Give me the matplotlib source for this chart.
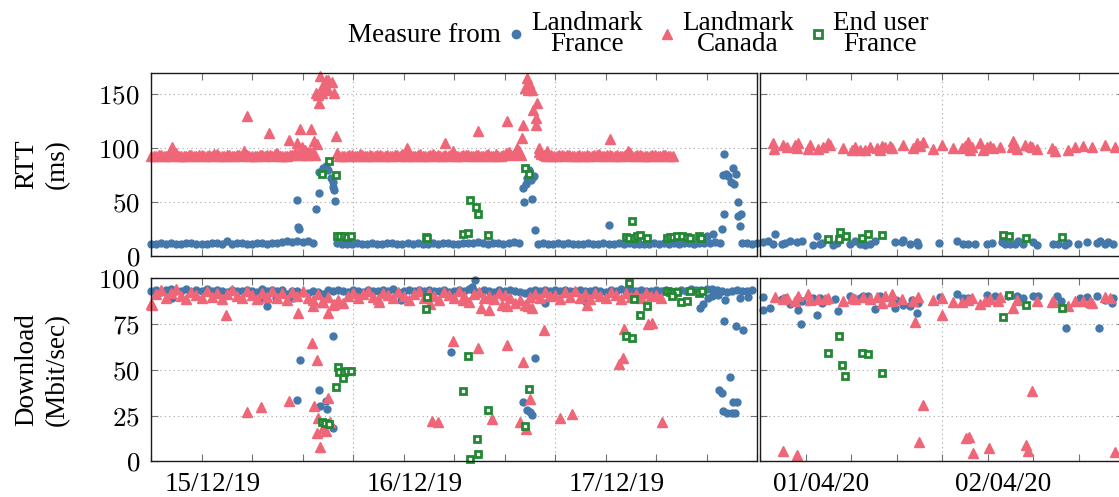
import numpy as np
import matplotlib
matplotlib.use('Agg')
import matplotlib.pyplot as plt
from matplotlib.lines import Line2D
from matplotlib.transforms import ScaledTranslation

plt.rcParams['font.family'] = ['Liberation Serif', 'DejaVu Serif']
plt.rcParams['mathtext.fontset'] = 'cm'

BLUE = '#4477AA'
PINK = '#EE6677'
GREEN = '#228833'

# ------------------------------------------------------------------ data
# Left window: days since 15/12/19 00:00 ; right window: days since 01/04/20 00:00
STEP = 0.025  # spacing of the regular measurement runs (days)

# ---- RTT (ms), Landmark France, left window: regular runs
rtt_fr_run1_t0 = 0.0
rtt_fr_run1 = [11.5, 11.0, 11.8, 11.2, 12.0, 11.4, 11.0, 11.6, 12.3, 11.2, 11.5, 11.0, 11.7, 12.1, 11.3,
               13.6, 11.0, 11.9, 12.4, 11.5, 11.2, 11.8, 12.0, 11.4, 11.6, 12.2, 12.8, 13.5, 12.6, 14.2,
               13.0, 13.8, 12.5]
rtt_fr_run2_t0 = 0.92
rtt_fr_run2 = [12.0, 11.2, 10.8, 11.5, 11.9, 11.0, 11.4, 12.2, 11.3, 11.0, 11.6, 11.8, 11.1, 11.5, 12.0,
               11.2, 11.7, 11.0, 11.4, 11.9, 11.3, 11.6, 12.1, 11.0, 11.5, 11.8, 12.4, 11.6, 13.2, 12.0,
               11.4, 11.8, 12.3, 11.5, 12.0, 12.6, 11.8]
rtt_fr_run3_t0 = 1.915
rtt_fr_run3 = [11.5, 12.0, 11.2, 11.0, 11.6, 11.3, 11.8, 11.1, 11.4, 11.0, 11.7, 11.2, 11.5, 11.9, 11.0,
               11.3, 11.6, 11.1, 11.8, 11.4, 11.0, 11.5, 11.2, 11.7, 11.3, 11.9, 11.1, 11.6, 11.4, 11.8,
               12.0, 11.5, 11.9, 12.3, 11.7, 12.8, 12.2]
rtt_fr_run4_t0 = 2.925
rtt_fr_run4 = [11.8, 12.2, 11.5, 12.0]
# isolated RTT points, Landmark France, left window
rtt_fr_left_t = [0.721, 0.728, 0.733, 0.815, 0.832, 0.834, 0.850, 0.866, 0.878, 0.890, 0.900, 0.902, 0.907, 0.912,
                 1.843, 1.847, 1.856, 1.863, 1.873, 1.880, 1.890, 1.896, 1.886, 1.902,
                 2.267, 2.754, 2.784, 2.825,
                 2.838, 2.830, 2.847, 2.858, 2.880, 2.895, 2.870, 2.886, 2.904, 2.837, 2.907, 2.921, 2.916]
rtt_fr_left_v = [52.3, 27.0, 25.0, 43.3, 58.8, 78.0, 82.0, 83.3, 79.6, 71.9, 68.7, 64.0, 61.6, 51.0,
                 63.0, 50.0, 66.6, 71.9, 80.2, 70.3, 73.4, 74.0, 53.2, 24.4,
                 28.7, 18.2, 20.0, 24.7,
                 94.2, 75.0, 75.8, 74.0, 81.8, 75.8, 68.7, 66.6, 50.1, 38.6, 37.0, 39.3, 27.5]

# ---- RTT (ms), Landmark Canada, left window: regular runs (two interleaved probes)
rtt_ca_run1_t0 = 0.0
rtt_ca_run1 = [93.0, 92.5, 94.0, 93.2, 92.8, 95.5, 93.0, 92.6, 93.5, 92.9, 93.8, 92.4, 93.1, 94.2, 92.7,
               93.4, 92.8, 93.6, 92.5, 93.9, 93.0, 92.6, 93.3, 94.0, 92.8, 95.8, 93.2, 92.7, 93.6, 94.5,
               96.5, 93.4, 95.0]
rtt_ca_run1b_t0 = 0.0125
rtt_ca_run1b = [92.6, 93.4, 92.9, 93.7, 94.5, 92.8, 93.1, 93.9, 92.7, 93.3, 92.9, 93.6, 94.8, 92.6, 93.2,
                93.8, 92.9, 93.4, 97.0, 93.1, 92.7, 93.5, 92.9, 93.6, 94.2, 93.0, 92.8, 93.7, 95.5, 93.3,
                94.0, 96.0, 93.6]
rtt_ca_run2_t0 = 0.92
rtt_ca_run2 = [95.5, 93.0, 92.6, 93.4, 92.8, 93.9, 92.5, 93.2, 94.0, 92.7, 93.3, 92.9, 93.6, 94.8, 93.1,
               92.6, 93.5, 92.8, 93.2, 95.0, 93.4, 92.7, 93.0, 93.8, 92.6, 93.3, 94.1, 92.9, 93.5, 93.0,
               94.6, 93.2, 92.8, 93.7, 96.0, 94.5, 97.5]
rtt_ca_run2b_t0 = 0.9325
rtt_ca_run2b = [93.2, 92.8, 93.6, 93.0, 94.2, 92.7, 93.4, 92.9, 93.8, 93.1, 92.6, 93.5, 93.0, 92.8, 93.7,
                93.2, 94.5, 92.9, 93.3, 93.0, 92.7, 93.6, 94.0, 93.1, 92.8, 93.4, 93.0, 93.9, 92.7, 93.5,
                93.2, 94.3, 93.0, 95.2, 93.6, 96.8, 94.0]
rtt_ca_run3_t0 = 1.92
rtt_ca_run3 = [96.5, 93.5, 92.8, 93.2, 94.0, 92.7, 93.4, 92.9, 93.6, 93.1, 92.5, 93.3, 94.2, 92.8, 93.5,
               93.0, 92.6, 93.4, 95.2, 92.9, 93.6, 93.0, 92.7, 93.3, 92.8, 93.5, 93.0]
rtt_ca_run3b_t0 = 1.9325
rtt_ca_run3b = [94.5, 93.0, 93.6, 92.7, 93.3, 93.9, 92.8, 93.2, 93.0, 94.0, 92.9, 93.4, 92.7, 93.6, 93.1,
                93.8, 92.9, 93.3, 93.0, 93.7, 92.8, 93.2, 93.5, 92.9, 93.4, 93.1, 92.8]
rtt_ca_left_t = [0.105, 0.474, 0.586, 0.683, 0.721, 0.738, 0.746, 0.762, 0.777, 0.794, 0.805, 0.820,
                 0.815, 0.828, 0.833, 0.837, 0.845, 0.850, 0.865, 0.875, 0.878, 0.895, 0.907, 0.916,
                 1.266, 1.455, 1.497, 1.620, 1.761, 1.810, 1.837, 1.840, 1.851, 1.863, 1.868, 1.873,
                 1.885, 1.890, 1.904, 1.906, 1.909, 1.922, 1.962, 2.272, 2.363]
rtt_ca_left_v = [100.7, 129.9, 113.8, 107.5, 105.0, 118.0, 100.7, 98.0, 96.0, 117.5, 106.9, 103.8,
                 151.0, 149.4, 141.7, 166.5, 151.0, 158.8, 163.4, 154.0, 163.4, 161.0, 151.0, 111.3,
                 99.8, 105.0, 97.6, 115.9, 124.9, 99.8, 109.4, 121.5, 155.7, 165.0, 153.5, 160.3,
                 153.5, 135.5, 127.7, 121.2, 141.7, 99.8, 97.6, 108.2, 97.6]

# ---- RTT (ms), End user France, left window
rtt_eu_left_t = [0.848, 0.881, 0.916, 0.921, 0.936, 0.955, 0.972, 0.989, 1.360, 1.368,
                 1.546, 1.568, 1.579, 1.609, 1.620, 1.670, 1.851, 1.873, 2.380,
                 2.351, 2.364, 2.391, 2.406, 2.421, 2.455, 2.553, 2.569, 2.586, 2.604,
                 2.627, 2.652, 2.668, 2.713, 2.723]
rtt_eu_left_v = [76.5, 88.0, 75.0, 19.0, 18.5, 18.2, 17.8, 18.6, 17.5, 16.6,
                 20.7, 21.3, 52.3, 45.5, 38.6, 19.7, 81.2, 76.5, 32.1,
                 17.5, 17.0, 16.6, 18.5, 19.7, 16.6, 17.0, 17.5, 18.0, 18.4,
                 18.6, 17.8, 17.0, 18.5, 17.0]

# ---- RTT (ms), right window
rtt_fr_right_t = [0.016, 0.044, 0.071, 0.081, 0.118, 0.136, 0.163, 0.200, 0.227, 0.291, 0.310, 0.328, 0.337,
                  0.401, 0.423, 0.493, 0.520, 0.548, 0.575, 0.603, 0.630, 0.740, 0.777, 0.786, 0.823, 0.859,
                  0.868, 0.984, 1.079, 1.115, 1.143, 1.180, 1.244, 1.271, 1.330, 1.345, 1.372, 1.399, 1.418,
                  1.445, 1.500, 1.519, 1.610, 1.637, 1.674, 1.692, 1.747, 1.793, 1.848, 1.866, 1.894, 1.912,
                  1.940]
rtt_fr_right_v = [12.9, 13.5, 11.3, 20.0, 11.3, 11.9, 13.5, 12.9, 13.8, 9.8, 18.2, 11.3, 11.9,
                  9.8, 11.9, 11.3, 13.5, 10.7, 10.4, 11.3, 13.5, 12.9, 12.9, 14.4, 11.3, 12.9,
                  10.4, 12.4, 13.8, 11.3, 11.3, 10.7, 10.7, 11.9, 12.9, 11.3, 11.3, 10.7, 13.8,
                  11.3, 12.9, 10.4, 10.7, 11.3, 9.8, 11.9, 11.3, 12.9, 11.9, 13.5, 11.3, 12.9,
                  11.3]
rtt_ca_right_t = [0.071, 0.075, 0.126, 0.145, 0.191, 0.209, 0.200, 0.264, 0.273, 0.319, 0.346, 0.374, 0.383,
                  0.456, 0.502, 0.520, 0.548, 0.575, 0.603, 0.640, 0.658, 0.667, 0.685, 0.713, 0.722,
                  0.786, 0.841, 0.859, 0.877, 0.896, 0.951, 0.997, 1.060, 1.107, 1.125, 1.143, 1.152,
                  1.161, 1.207, 1.225, 1.244, 1.262, 1.280, 1.317, 1.390, 1.381, 1.409, 1.454, 1.482,
                  1.491, 1.519, 1.601, 1.619, 1.692, 1.729, 1.775, 1.821, 1.894, 1.949]
rtt_ca_right_v = [104.4, 98.9, 102.9, 100.7, 102.9, 105.0, 99.8, 98.9, 102.9, 98.9, 101.3, 105.0, 102.9,
                  100.4, 98.2, 100.7, 98.2, 98.2, 101.3, 99.8, 98.2, 102.0, 100.7, 102.0, 99.8,
                  102.9, 99.8, 104.4, 102.0, 106.0, 98.9, 102.9, 99.8, 99.8, 102.0, 106.0, 98.2,
                  100.7, 104.4, 98.2, 100.7, 102.0, 99.8, 100.7, 106.9, 100.7, 98.9, 102.9, 102.0,
                  100.7, 98.9, 99.8, 97.6, 98.2, 100.7, 102.0, 100.7, 102.9, 100.7]
rtt_eu_right_t = [0.374, 0.438, 0.434, 0.469, 0.557, 0.590, 0.670, 1.335, 1.368, 1.458, 1.659]
rtt_eu_right_v = [16.0, 22.2, 15.4, 18.2, 16.6, 20.7, 19.1, 19.7, 18.4, 16.6, 17.5]

# ---- Download (Mbit/s), Landmark France, left window: regular run + isolated points
dl_fr_run_t0 = 0.0
dl_fr_run = [93.0, 93.8, 92.5, 93.5, 94.0, 92.8, 93.2, 93.9, 92.6, 93.4, 93.0, 94.1, 92.9, 93.6, 93.1,
             92.7, 93.8, 93.3, 92.9, 93.5, 93.2, 92.6, 93.9, 93.0, 93.4, 92.8, 93.6, 91.5, 92.9, 93.3,
             92.0, 91.8, 93.0, 92.5, 91.2, 93.4, 92.8, 93.6, 93.1, 92.7, 93.5, 93.0, 92.6, 93.8, 93.2,
             92.9, 93.5, 93.1, 93.9, 92.7, 93.3, 93.6, 92.8, 93.4, 93.0, 93.7, 92.9, 93.3, 93.8, 92.6,
             93.1, 93.5, 92.8, 93.9, 93.2, 92.7, 93.4, 93.0, 92.6, 93.5, 93.1, 93.7, 92.9, 92.4, 91.8,
             93.2, 93.6, 92.9, 93.4, 93.0, 93.4, 92.8, 93.6, 93.1, 93.0, 93.7, 92.9, 93.3, 93.8, 93.0,
             92.7, 93.5, 93.2, 93.9, 92.8, 93.4, 93.1, 93.6, 92.9, 93.3, 93.5, 93.0, 93.8, 93.2, 92.9,
             93.6, 93.3, 94.0, 93.4, 93.7, 93.9, 94.2, 93.5, 93.0, 92.6, 93.1, 93.8, 93.3, 92.9, 93.5]
dl_fr_left_t = [0.105, 0.573, 0.738, 0.721, 0.900, 0.833, 0.837, 0.866, 0.870, 0.900, 1.236, 1.485,
                1.604, 1.588, 1.901, 1.843, 1.863, 1.876, 1.885, 1.950, 2.153, 2.718, 2.734, 2.759,
                2.837, 2.895, 2.929, 2.813, 2.825, 2.866, 2.830, 2.850, 2.875, 2.891, 2.883, 2.899,
                2.842, 2.916, 2.778, 2.807, 2.955, 0.550, 0.619, 0.705]
dl_fr_left_v = [89.2, 85.1, 55.4, 33.6, 68.7, 39.0, 30.5, 33.0, 28.6, 18.4, 88.2, 60.0,
                99.2, 95.5, 56.4, 32.6, 28.1, 27.2, 25.4, 86.4, 87.3, 84.0, 85.9, 89.2,
                76.8, 74.2, 71.7, 39.0, 37.2, 46.1, 27.6, 26.3, 26.3, 26.6, 32.6, 32.6,
                88.2, 89.5, 90.5, 91.0, 90.0, 88.5, 89.0, 89.2]

# ---- Download, Landmark Canada, left window
dl_ca_run_t0 = 0.0
dl_ca_run = [86.0, 91.5, 93.5, 89.0, 92.0, 94.0, 90.5, 88.5, 92.5, 91.0, 89.5, 93.0, 90.0, 92.0, 88.8,
             91.5, 93.5, 90.2, 89.0, 92.8, 91.0, 88.5, 92.0, 90.0, 93.0, 89.5, 91.8, 88.0, 92.5, 90.5,
             93.2, 89.0, 88.2, 91.5, 87.0, 90.0, 85.5, 88.0, 86.5, 90.5, 92.0, 89.5, 91.5, 93.0, 90.0,
             88.5, 92.0, 91.0, 89.0, 92.5, 90.5, 88.0, 91.5, 93.0, 89.5, 92.0, 90.5, 88.0, 92.5, 91.0,
             89.5, 93.0, 90.5, 87.0, 91.5, 92.5, 89.0, 90.5, 88.5, 92.0, 91.0, 89.5, 86.5, 88.0, 85.5,
             90.0, 91.5, 89.0, 92.5, 90.5, 91.0, 88.5, 92.5, 90.0, 93.0, 89.5, 91.5, 88.5, 92.0, 90.5,
             89.0, 92.5, 91.0, 88.8, 92.0, 90.0, 91.5, 89.5, 92.0, 90.5, 91.0, 89.5]
dl_ca_left_t = [0.003, 0.371, 0.474, 0.545, 0.683, 0.729, 0.796, 0.823, 0.807, 0.828, 0.820, 0.837,
                0.850, 0.866, 0.878, 0.886, 0.878, 0.845, 0.803, 0.906, 1.390, 1.422, 1.381, 1.494,
                1.130, 1.620, 1.761, 1.843, 1.876, 1.827, 1.856, 1.687, 1.946, 2.025, 2.086, 2.343,
                2.335, 2.317, 2.462, 2.479, 2.531, 1.632, 1.675, 1.736, 1.761, 1.868, 1.885, 2.157,
                1.543]
dl_ca_left_v = [85.5, 79.7, 27.2, 29.9, 33.0, 81.0, 64.9, 55.4, 30.5, 23.6, 15.7, 8.0,
                18.1, 16.8, 34.8, 21.7, 81.0, 87.3, 84.6, 86.0, 22.1, 21.7, 85.9, 65.8,
                87.0, 61.8, 63.3, 54.5, 34.1, 21.7, 17.7, 23.2, 71.5, 23.9, 25.8, 72.4,
                56.4, 53.1, 75.0, 75.5, 21.4, 84.0, 82.8, 85.5, 85.1, 84.6, 84.0, 85.5,
                88.2]

# ---- Download, End user France, left window
dl_eu_left_t = [0.924, 0.932, 0.952, 0.955, 0.969, 0.989, 0.914, 0.848, 0.861, 0.883, 1.368, 1.360,
                1.571, 1.546, 1.670, 1.612, 1.620, 1.579, 1.871, 1.851, 2.368, 2.391, 2.457, 2.421,
                2.350, 2.380, 2.553, 2.569, 2.586, 2.606, 2.622, 2.652, 2.666, 2.715, 2.727, 2.579]
dl_eu_left_v = [51.8, 48.7, 45.8, 48.7, 49.1, 49.4, 40.8, 21.7, 21.0, 20.4, 89.7, 83.2,
                57.5, 38.7, 27.9, 12.2, 4.2, 1.3, 39.4, 19.4, 97.4, 88.8, 85.0, 79.7,
                68.6, 67.3, 93.0, 92.5, 92.0, 92.5, 87.0, 87.7, 93.0, 92.0, 92.8, 90.5]

# ---- Download, right window
dl_fr_right_t = [0.016, 0.016, 0.053, 0.118, 0.136, 0.163, 0.205, 0.222, 0.231, 0.291, 0.313, 0.328, 0.337,
                 0.410, 0.429, 0.493, 0.511, 0.548, 0.566, 0.593, 0.630, 0.658, 0.740, 0.744, 0.786,
                 0.823, 0.832, 0.859, 0.868, 0.987, 1.079, 1.115, 1.143, 1.244, 1.290, 1.363, 1.409,
                 1.445, 1.500, 1.527, 1.629, 1.651, 1.680, 1.757, 1.793, 1.848, 1.861, 1.894, 1.931,
                 1.940]
dl_fr_right_v = [89.7, 82.8, 84.0, 88.8, 89.2, 85.9, 82.8, 75.0, 87.7, 89.2, 80.0, 89.2, 86.4,
                 88.8, 81.9, 90.1, 89.2, 89.5, 90.1, 90.6, 83.3, 90.1, 84.0, 88.2, 85.5,
                 84.6, 88.2, 81.3, 86.4, 89.7, 91.5, 89.2, 89.5, 91.0, 90.1, 90.6, 90.1,
                 89.5, 90.1, 90.1, 90.6, 87.7, 72.8, 89.2, 89.7, 90.1, 73.1, 88.2, 86.4,
                 89.2]
dl_ca_right_t = [0.081, 0.126, 0.145, 0.191, 0.209, 0.264, 0.273, 0.319, 0.355, 0.374, 0.456, 0.502, 0.520,
                 0.566, 0.603, 0.640, 0.667, 0.685, 0.722, 0.722, 0.777, 0.841, 0.868, 0.850, 0.951,
                 0.997, 0.997, 1.060, 1.107, 1.143, 1.161, 1.207, 1.235, 1.262, 1.308, 1.317, 1.390,
                 1.409, 1.519, 1.601, 1.610, 1.692, 1.729, 1.775, 1.812, 1.821, 1.894, 1.921,
                 0.123, 0.200, 0.896, 0.874, 1.130, 1.148, 1.170, 1.258, 1.460, 1.473, 1.491, 1.949]
dl_ca_right_v = [89.7, 88.8, 89.2, 87.7, 90.1, 91.3, 88.2, 88.8, 88.8, 89.2, 87.4, 89.2, 88.6,
                 89.7, 88.8, 89.7, 86.4, 90.4, 91.5, 87.7, 88.6, 87.7, 89.7, 76.4, 88.2,
                 89.2, 79.7, 87.0, 87.0, 88.2, 89.2, 86.0, 87.7, 88.8, 87.7, 89.7, 84.0,
                 88.2, 87.7, 87.0, 87.7, 85.1, 87.7, 87.7, 87.0, 86.4, 89.7, 89.2,
                 5.7, 3.5, 30.8, 10.8, 13.0, 13.5, 4.4, 7.2, 9.0, 5.7, 38.7, 5.3]
dl_eu_right_t = [0.434, 0.374, 0.447, 0.465, 0.560, 0.590, 0.670, 1.335, 1.368, 1.458, 1.659]
dl_eu_right_v = [68.7, 59.4, 52.7, 46.7, 59.1, 58.8, 48.2, 78.8, 91.0, 85.5, 84.0]

# axis labels / ticks
left_date_labels = ['15/12/19', '16/12/19', '17/12/19']
right_date_labels = ['01/04/20', '02/04/20']
rtt_ticks = [0, 50, 100, 150]
dl_ticks = [0, 25, 50, 75, 100]
legend_labels = ['Landmark\nFrance', 'Landmark\nCanada', 'End user\nFrance']


def run(t0, vals):
    return t0 + STEP * np.arange(len(vals))


# ------------------------------------------------------------------ figure
W, H = 1119, 497
fig = plt.figure(figsize=(W / 100, H / 100), dpi=100)


def rect(x0, y0, x1, y1):
    return [x0 / W, 1 - y1 / H, (x1 - x0) / W, (y1 - y0) / H]


ax_tl = fig.add_axes(rect(151, 72.7, 757, 256))
ax_tr = fig.add_axes(rect(760.3, 72.7, 1124.3, 256))
ax_bl = fig.add_axes(rect(151, 278.3, 757, 461.4))
ax_br = fig.add_axes(rect(760.3, 278.3, 1124.3, 461.4))

FS = 19.5
STY_FR = dict(ls='none', marker='o', ms=5.0, color=BLUE, mec=BLUE, clip_on=False)
STY_CA = dict(ls='none', marker='^', ms=6.5, color=PINK, mec=PINK, clip_on=False)
STY_EU = dict(ls='none', marker='s', ms=4.8, mfc='white', mec=GREEN, mew=2.0, clip_on=False)


def style(ax, xmax, ylim, yticks, ylabels):
    ax.set_xlim(0, xmax)
    ax.set_ylim(*ylim)
    ax.set_xticks(np.arange(0, xmax + 0.01, 1))
    ax.set_xticklabels([])
    ax.set_xticks(np.arange(0, xmax + 0.01, 0.25), minor=True)
    ax.set_yticks(yticks)
    ax.set_yticklabels(['$%d$' % v for v in yticks] if ylabels else [])
    ax.tick_params(which='both', direction='in', top=True, right=True, left=True,
                   length=5, width=0.8, color='0.45', labelsize=FS, pad=8)
    ax.grid(True, which='major', linestyle=(0, (1, 3)), color='0.65', lw=0.8)
    ax.set_axisbelow(True)
    for s in ax.spines.values():
        s.set_linewidth(1.0)
        s.set_color('0.1')


# top-left: RTT
ax_tl.plot(np.concatenate([run(rtt_fr_run1_t0, rtt_fr_run1), run(rtt_fr_run2_t0, rtt_fr_run2),
                           run(rtt_fr_run3_t0, rtt_fr_run3), run(rtt_fr_run4_t0, rtt_fr_run4), rtt_fr_left_t]),
           np.concatenate([rtt_fr_run1, rtt_fr_run2, rtt_fr_run3, rtt_fr_run4, rtt_fr_left_v]), **STY_FR)
ax_tl.plot(np.concatenate([run(rtt_ca_run1_t0, rtt_ca_run1), run(rtt_ca_run1b_t0, rtt_ca_run1b),
                           run(rtt_ca_run2_t0, rtt_ca_run2), run(rtt_ca_run2b_t0, rtt_ca_run2b),
                           run(rtt_ca_run3_t0, rtt_ca_run3), run(rtt_ca_run3b_t0, rtt_ca_run3b), rtt_ca_left_t]),
           np.concatenate([rtt_ca_run1, rtt_ca_run1b, rtt_ca_run2, rtt_ca_run2b,
                           rtt_ca_run3, rtt_ca_run3b, rtt_ca_left_v]), **STY_CA)
ax_tl.plot(rtt_eu_left_t, rtt_eu_left_v, **STY_EU)

# top-right
ax_tr.plot(rtt_fr_right_t, rtt_fr_right_v, **STY_FR)
ax_tr.plot(rtt_ca_right_t, rtt_ca_right_v, **STY_CA)
ax_tr.plot(rtt_eu_right_t, rtt_eu_right_v, **STY_EU)

# bottom-left: download
ax_bl.plot(np.concatenate([run(dl_fr_run_t0, dl_fr_run), dl_fr_left_t]),
           np.concatenate([dl_fr_run, dl_fr_left_v]), **STY_FR)
ax_bl.plot(np.concatenate([run(dl_ca_run_t0, dl_ca_run), dl_ca_left_t]),
           np.concatenate([dl_ca_run, dl_ca_left_v]), **STY_CA)
ax_bl.plot(dl_eu_left_t, dl_eu_left_v, **STY_EU)

# bottom-right
ax_br.plot(dl_fr_right_t, dl_fr_right_v, **STY_FR)
ax_br.plot(dl_ca_right_t, dl_ca_right_v, **STY_CA)
ax_br.plot(dl_eu_right_t, dl_eu_right_v, **STY_EU)

style(ax_tl, 3, (0, 170), rtt_ticks, True)
style(ax_tr, 2, (0, 170), rtt_ticks, False)
style(ax_bl, 3, (0, 100), dl_ticks, True)
style(ax_br, 2, (0, 100), dl_ticks, False)

# date labels below bottom axes (shifted right of midnight as in the original)
off = ScaledTranslation(0, -23 / 100, fig.dpi_scale_trans)
for i, lab in enumerate(left_date_labels):
    ax_bl.text(i + 0.307, 0, lab, transform=ax_bl.get_xaxis_transform() + off,
               ha='center', va='center', fontsize=FS)
for i, lab in enumerate(right_date_labels):
    ax_br.text(i + 0.334, 0, lab, transform=ax_br.get_xaxis_transform() + off,
               ha='center', va='center', fontsize=FS)

# y labels
fig.text(42 / W, 1 - 164 / H, 'RTT\n(ms)', rotation=90, ha='center', va='center',
         multialignment='center', fontsize=FS, linespacing=1.3)
fig.text(42 / W, 1 - 370 / H, 'Download\n(Mbit/sec)', rotation=90, ha='center', va='center',
         multialignment='center', fontsize=FS, linespacing=1.3)

# legend
fig.text(501 / W, 1 - 36 / H, 'Measure from', ha='right', va='center', fontsize=FS)
LEG_FR = dict(STY_FR, ms=6)
LEG_CA = dict(STY_CA, ms=7.5)
LEG_EU = dict(STY_EU, ms=6.0, mew=2.0)
handles = [Line2D([], [], **LEG_FR), Line2D([], [], **LEG_CA), Line2D([], [], **LEG_EU)]
leg = fig.legend(handles, legend_labels, loc='center left', bbox_to_anchor=(508 / W, 1 - 34 / H),
                 ncol=3, frameon=False, fontsize=FS, handlelength=0.6, handletextpad=0.25,
                 columnspacing=0.6, borderpad=0, borderaxespad=0)
for t in leg.get_texts():
    t.set_linespacing(0.8)
    t.set_multialignment('center')

fig.savefig('out.png', dpi=100)
